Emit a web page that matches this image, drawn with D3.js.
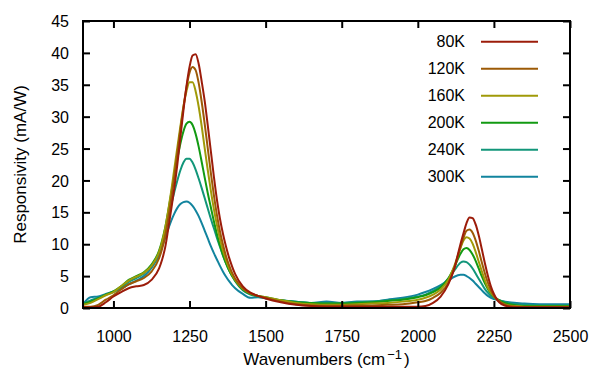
<!DOCTYPE html>
<html>
<head>
<meta charset="utf-8">
<script src="https://cdn.jsdelivr.net/npm/d3@7"></script>
<style>
  html, body { margin: 0; padding: 0; background: #fff; }
  svg { display: block; }
  text { font-family: "Liberation Sans", Arial, Helvetica, sans-serif; font-size: 16px; fill: #000; }
</style>
</head>
<body>
<svg id="chart" width="589" height="370"></svg>
<script>
// ---------- DATA ----------
const wavenumbers = [
  900, 925, 950, 975, 1000, 1025, 1050, 1075, 1100, 1125,
  1150, 1160, 1170, 1180, 1190, 1200, 1210, 1220, 1230, 1240,
  1250, 1260, 1270, 1280, 1290, 1300, 1310, 1320, 1330, 1340,
  1350, 1360, 1370, 1380, 1390, 1400, 1425, 1450, 1475, 1500,
  1550, 1600, 1650, 1700, 1750, 1800, 1850, 1900, 1950, 2000,
  2025, 2050, 2075, 2100, 2120, 2140, 2150, 2160, 2170, 2180,
  2190, 2200, 2210, 2220, 2230, 2240, 2250, 2275, 2300, 2325,
  2350, 2400, 2450, 2500
];

const resp80K = [
  0.1, 0.1, 0.2, 0.9, 1.8, 2.5, 3.1, 3.4, 3.6, 4.4,
  6.2, 7.6, 9.5, 12.4, 15.5, 18.8, 22.5, 26.8, 31.0, 34.8,
  37.8, 39.6, 39.8, 38.3, 35.5, 32.4, 28.6, 24.6, 20.6, 17.0,
  14.0, 11.6, 9.6, 7.9, 6.5, 5.3, 3.4, 2.4, 1.9, 1.5,
  0.9, 0.5, 0.3, 0.2, 0.2, 0.2, 0.2, 0.2, 0.2, 0.2,
  0.3, 0.8, 1.8, 3.7, 6.2, 10.0, 11.7, 13.3, 14.2, 14.1,
  13.1, 11.4, 9.3, 7.1, 5.1, 3.4, 2.2, 0.6, 0.2, 0.1,
  0.1, 0.1, 0.1, 0.1
];
const resp120K = [
  0.2, 0.2, 0.5, 1.3, 2.0, 2.9, 3.7, 4.2, 4.7, 5.7,
  7.8, 9.3, 11.3, 14.0, 17.2, 20.6, 24.3, 28.0, 31.5, 34.6,
  36.9, 37.8, 37.3, 35.3, 32.3, 28.8, 25.0, 21.2, 17.7, 14.6,
  12.0, 9.9, 8.1, 6.7, 5.5, 4.6, 3.1, 2.3, 1.9, 1.6,
  1.0, 0.6, 0.4, 0.35, 0.35, 0.4, 0.4, 0.5, 0.6, 0.9,
  1.1, 1.6, 2.4, 3.9, 6.2, 9.5, 11.0, 12.1, 12.3, 11.8,
  10.6, 9.0, 7.2, 5.5, 4.0, 2.8, 1.9, 0.8, 0.3, 0.2,
  0.1, 0.1, 0.1, 0.1
];
const resp160K = [
  0.5, 0.8, 1.4, 2.0, 2.5, 3.4, 4.3, 4.9, 5.5, 6.6,
  8.8, 10.4, 12.5, 15.3, 18.4, 21.8, 25.2, 28.5, 31.6, 34.0,
  35.4, 35.4, 34.0, 31.6, 28.5, 25.0, 21.6, 18.4, 15.5, 13.0,
  10.8, 9.0, 7.5, 6.2, 5.2, 4.4, 3.0, 2.3, 1.9, 1.7,
  1.2, 0.8, 0.6, 0.5, 0.5, 0.6, 0.7, 0.8, 1.0, 1.3,
  1.6, 2.1, 2.9, 4.4, 6.6, 9.4, 10.6, 11.1, 10.9, 10.1,
  8.8, 7.3, 5.8, 4.4, 3.2, 2.4, 1.8, 0.8, 0.4, 0.3,
  0.2, 0.2, 0.2, 0.2
];
const resp200K = [
  0.6, 1.0, 1.5, 2.1, 2.6, 3.4, 4.4, 5.0, 5.6, 6.8,
  9.0, 10.6, 12.6, 15.2, 18.0, 20.8, 23.4, 25.8, 27.7, 28.9,
  29.2, 28.7, 27.3, 25.3, 22.9, 20.4, 18.0, 15.8, 13.6, 11.6,
  9.8, 8.3, 7.0, 5.9, 5.0, 4.3, 2.9, 2.2, 1.9, 1.7,
  1.2, 0.9, 0.8, 0.7, 0.7, 0.8, 0.9, 1.1, 1.3, 1.7,
  2.0, 2.5, 3.2, 4.6, 6.4, 8.5, 9.2, 9.4, 9.1, 8.4,
  7.4, 6.2, 5.0, 3.9, 3.0, 2.3, 1.8, 1.0, 0.6, 0.4,
  0.3, 0.3, 0.3, 0.3
];
const resp240K = [
  0.7, 1.2, 1.6, 2.1, 2.5, 3.2, 4.1, 4.7, 5.4, 6.6,
  8.7, 10.1, 11.9, 14.0, 16.2, 18.2, 20.0, 21.6, 22.8, 23.4,
  23.4, 22.8, 21.7, 20.3, 18.8, 17.2, 15.6, 14.0, 12.5, 11.0,
  9.6, 8.2, 7.0, 5.9, 5.0, 4.2, 2.8, 2.1, 1.8, 1.6,
  1.2, 1.0, 0.8, 0.8, 0.8, 0.9, 1.0, 1.2, 1.4, 1.8,
  2.1, 2.7, 3.4, 4.6, 5.9, 7.1, 7.3, 7.2, 6.8, 6.2,
  5.4, 4.6, 3.8, 3.0, 2.4, 1.9, 1.6, 1.1, 0.8, 0.6,
  0.5, 0.4, 0.4, 0.4
];
const resp300K = [
  0.6, 1.7, 1.8, 2.2, 2.6, 3.0, 3.7, 4.3, 5.0, 6.3,
  8.3, 9.6, 11.0, 12.4, 13.7, 14.8, 15.7, 16.3, 16.6, 16.7,
  16.5, 16.0, 15.3, 14.4, 13.3, 12.1, 10.9, 9.7, 8.6, 7.6,
  6.6, 5.7, 4.9, 4.2, 3.6, 3.1, 2.2, 1.6, 1.7, 1.5,
  1.2, 1.0, 0.8, 1.0, 0.8, 1.0, 1.0, 1.3, 1.6, 2.1,
  2.5, 3.0, 3.6, 4.3, 4.9, 5.2, 5.2, 5.0, 4.7, 4.3,
  3.8, 3.3, 2.8, 2.3, 1.9, 1.6, 1.4, 1.1, 0.9, 0.8,
  0.7, 0.6, 0.6, 0.6
];

const seriesNames = ["80K", "120K", "160K", "200K", "240K", "300K"];
const seriesValues = [resp80K, resp120K, resp160K, resp200K, resp240K, resp300K];
const seriesColors = ["#9c1c0a", "#9c5a06", "#a09a08", "#129a12", "#12967a", "#12849e"];

const xTicks = [1000, 1250, 1500, 1750, 2000, 2250, 2500];
const yTicks = [0, 5, 10, 15, 20, 25, 30, 35, 40, 45];

// ---------- LAYOUT ----------
const L = 83, R = 570, T = 21, B = 308;

const svg = d3.select("#chart");
const x = d3.scaleLinear().domain([900, 2500]).range([L, R]);
const y = d3.scaleLinear().domain([0, 45]).range([B, T]);

svg.append("defs").append("clipPath").attr("id", "clip")
  .append("rect").attr("x", L).attr("y", T).attr("width", R - L).attr("height", B - T);

const line = d3.line()
  .x((d, i) => x(wavenumbers[i]))
  .y(d => y(d))
  .curve(d3.curveMonotoneX);

const g = svg.append("g").attr("clip-path", "url(#clip)");
for (let s = seriesValues.length - 1; s >= 0; s--) {
  g.append("path")
    .datum(seriesValues[s])
    .attr("fill", "none")
    .attr("stroke", seriesColors[s])
    .attr("stroke-width", 2)
    .attr("stroke-linejoin", "round")
    .attr("d", line);
}

// axes (inward ticks, mirrored)
const tick = 7;
const axB = svg.append("g").attr("transform", `translate(0,${B})`)
  .call(d3.axisBottom(x).tickValues(xTicks).tickSize(-tick).tickSizeOuter(0).tickFormat(d3.format("d")));
axB.selectAll("text").attr("y", 34).attr("dy", 0);

svg.append("g").attr("transform", `translate(0,${T})`)
  .call(d3.axisTop(x).tickValues(xTicks).tickSize(-tick).tickSizeOuter(0).tickFormat(""));

const axL = svg.append("g").attr("transform", `translate(${L},0)`)
  .call(d3.axisLeft(y).tickValues(yTicks).tickSize(-tick).tickSizeOuter(0));
axL.selectAll("text").attr("x", -14).attr("dy", "0.35em");

svg.append("g").attr("transform", `translate(${R},0)`)
  .call(d3.axisRight(y).tickValues(yTicks).tickSize(-tick).tickSizeOuter(0).tickFormat(""));

svg.selectAll(".domain").remove();
svg.selectAll(".tick line").attr("stroke", "#000").attr("stroke-width", 2);
svg.selectAll(".tick text").style("font-size", "16px").style("font-family", '"Liberation Sans", Arial, sans-serif').attr("fill", "#000");

svg.append("rect")
  .attr("x", L).attr("y", T).attr("width", R - L).attr("height", B - T)
  .attr("fill", "none").attr("stroke", "#000").attr("stroke-width", 2);

// axis titles
const xt = svg.append("text")
  .attr("x", (L + R) / 2).attr("y", 365)
  .attr("text-anchor", "middle").style("font-size", "17px");
xt.append("tspan").text("Wavenumbers (cm");
xt.append("tspan").attr("dx", 2).attr("dy", -6).style("font-size", "13px").text("\u22121");
xt.append("tspan").attr("dx", 2).attr("dy", 6).text(")");

svg.append("text")
  .attr("transform", `translate(26,${(T + B) / 2}) rotate(-90)`)
  .attr("text-anchor", "middle").style("font-size", "17px")
  .text("Responsivity (mA/W)");

// legend
const legY0 = 41.7, legDy = 27;
seriesNames.forEach((name, i) => {
  const yy = legY0 + i * legDy;
  svg.append("text").attr("x", 465).attr("y", yy + 5.6)
    .attr("text-anchor", "end").text(name);
  svg.append("line")
    .attr("x1", 481).attr("x2", 538).attr("y1", yy).attr("y2", yy)
    .attr("stroke", seriesColors[i]).attr("stroke-width", 2);
});
</script>
</body>
</html>
